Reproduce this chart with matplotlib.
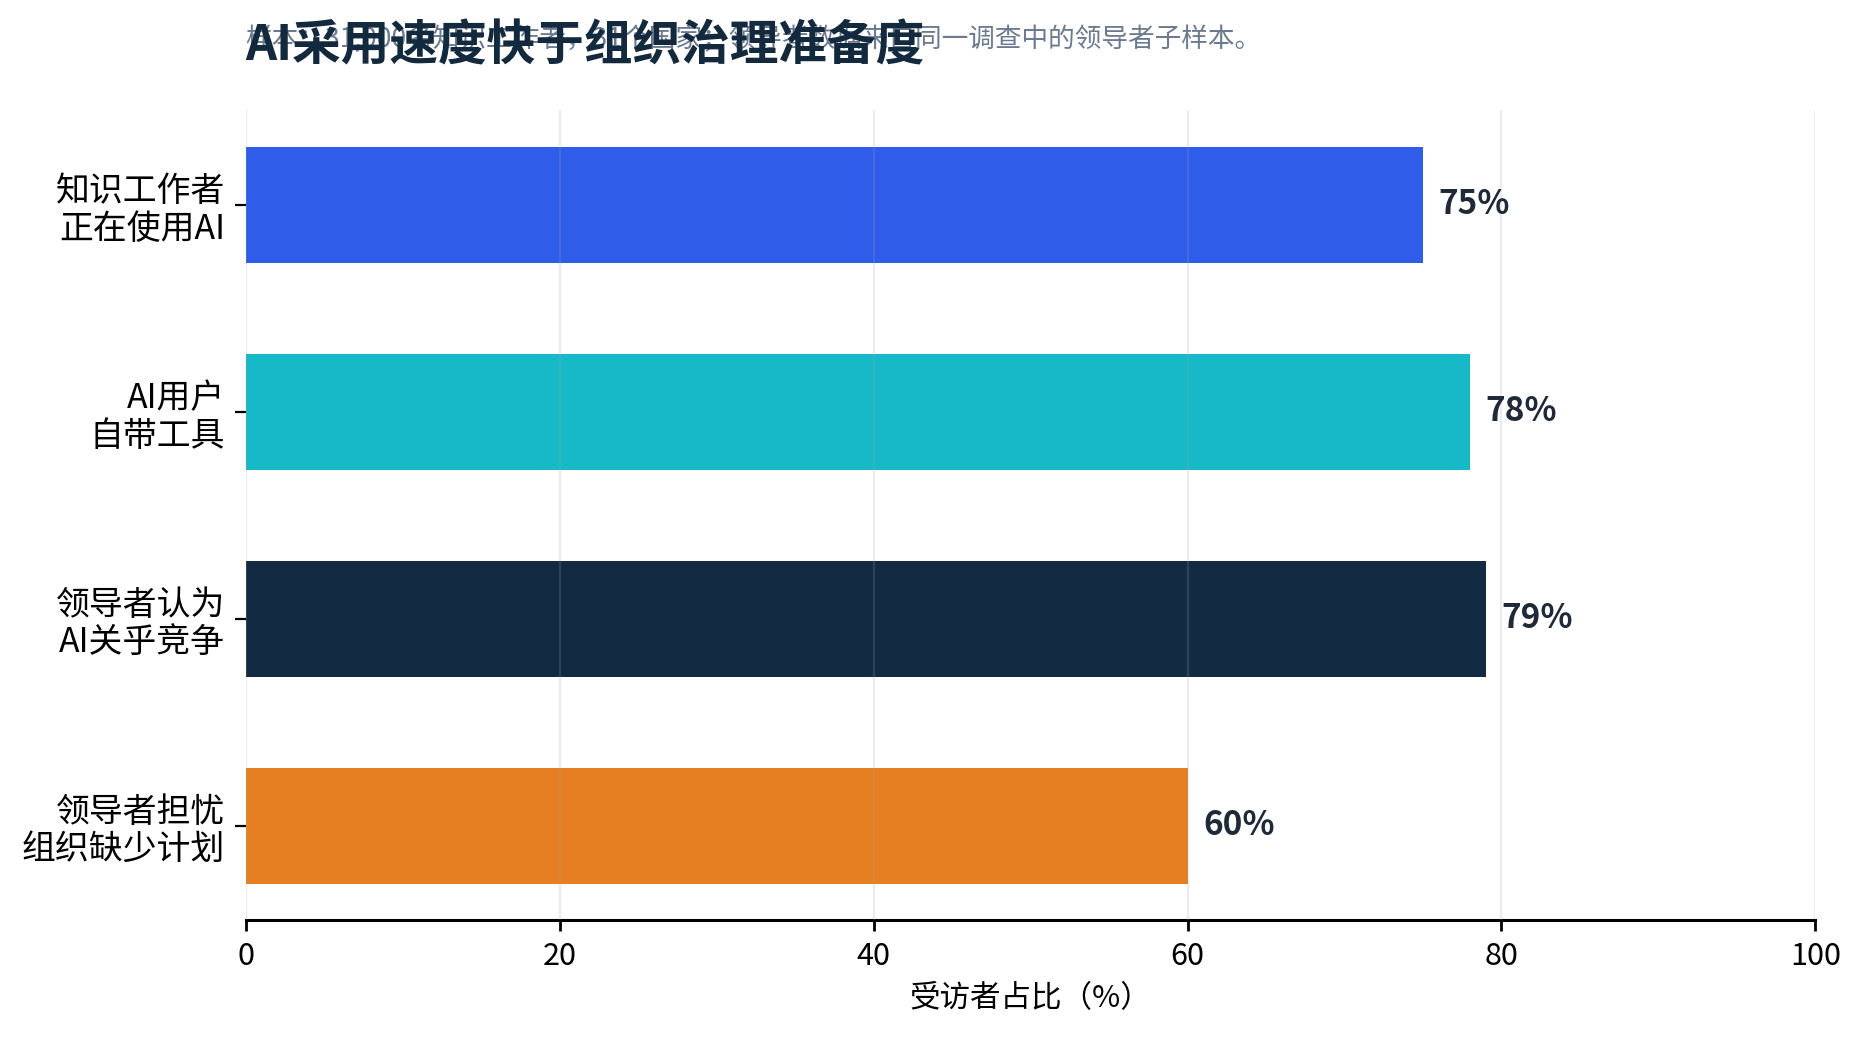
import matplotlib.pyplot as plt

plt.rcParams['font.family'] = ['Noto Sans CJK SC', 'DejaVu Sans']

# Datos
categories = ['知识工作者\n正在使用AI', 'AI用户\n自带工具', '领导者认为\nAI关乎竞争', '领导者担忧\n组织缺少计划']
values = [75, 78, 79, 60]
colors = ['#2F5CE8', '#17B8C7', '#132A43', '#E67F22']
xticks = [0, 20, 40, 60, 80, 100]

title = 'AI采用速度快于组织治理准备度'
subtitle = '样本：31,000名知识工作者，31个国家；领导者数据来自同一调查中的领导者子样本。'

fig = plt.figure(figsize=(9.305, 5.2), dpi=200)
ax = fig.add_axes([0.132, 0.115, 0.8435, 0.779])

ypos = list(range(len(categories)))
ax.barh(ypos, values, height=0.56, color=colors, zorder=1)
ax.invert_yaxis()

for y, v in zip(ypos, values):
    ax.text(v + 1, y, f'{v}%', va='center', ha='left', fontsize=12,
            fontweight='bold', color='#1F2937')

ax.set_xlim(0, 100)
ax.set_xticks(xticks)
ax.set_yticks(ypos)
ax.set_yticklabels(categories, fontsize=12.2, linespacing=1.1)
ax.tick_params(axis='x', labelsize=11, length=4, width=1)
ax.tick_params(axis='y', length=4, width=0.8)
ax.set_xlabel('受访者占比（%）', fontsize=11, labelpad=4)

# Rejilla por encima de las barras, muy tenue
ax.grid(axis='x', color='#9CA3AF', linewidth=0.8, alpha=0.2, zorder=3)
ax.set_axisbelow(False)
for s in ['top', 'right', 'left']:
    ax.spines[s].set_visible(False)
ax.spines['bottom'].set_linewidth(1.1)

fig.text(0.132, 0.962, subtitle, fontsize=9.6, color='#6B7A8F', ha='left', va='center')
fig.text(0.132, 0.956, title, fontsize=17.5, fontweight='bold', color='#13293D',
         ha='left', va='center')

fig.savefig('out.png', dpi=200)
